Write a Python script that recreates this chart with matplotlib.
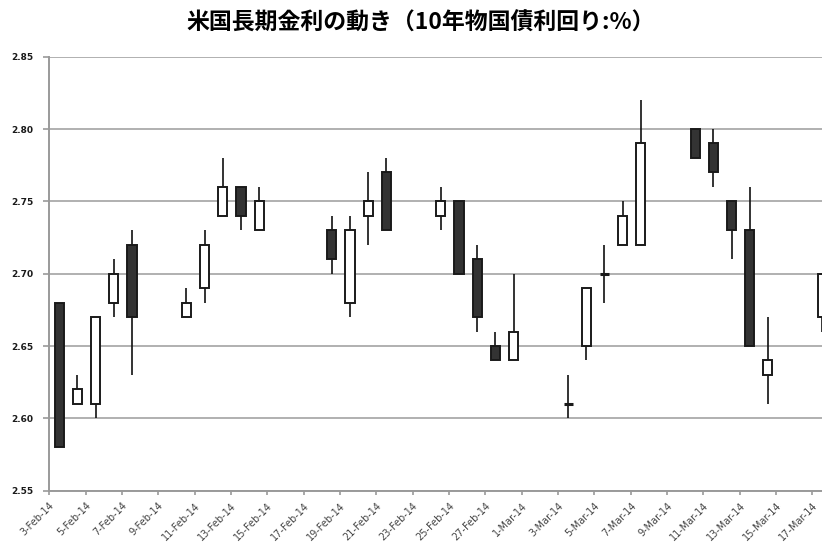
import matplotlib
matplotlib.use("Agg")
import matplotlib.pyplot as plt
import matplotlib.dates as mdates
import pandas as pd

# US 10-year treasury yield, daily OHLC (%)
dates = ["2014-02-03", "2014-02-04", "2014-02-05", "2014-02-06", "2014-02-07",
         "2014-02-10", "2014-02-11", "2014-02-12", "2014-02-13", "2014-02-14",
         "2014-02-18", "2014-02-19", "2014-02-20", "2014-02-21",
         "2014-02-24", "2014-02-25", "2014-02-26", "2014-02-27", "2014-02-28",
         "2014-03-03", "2014-03-04", "2014-03-05", "2014-03-06", "2014-03-07",
         "2014-03-10", "2014-03-11", "2014-03-12", "2014-03-13", "2014-03-14",
         "2014-03-17"]
open_ = [2.68, 2.61, 2.61, 2.68, 2.72,
         2.67, 2.69, 2.74, 2.76, 2.73,
         2.73, 2.68, 2.74, 2.77,
         2.74, 2.75, 2.71, 2.65, 2.64,
         2.61, 2.65, 2.70, 2.72, 2.72,
         2.80, 2.79, 2.75, 2.73, 2.63,
         2.67]
high = [2.68, 2.63, 2.67, 2.71, 2.73,
        2.69, 2.73, 2.78, 2.76, 2.76,
        2.74, 2.74, 2.77, 2.78,
        2.76, 2.75, 2.72, 2.66, 2.70,
        2.63, 2.69, 2.72, 2.75, 2.82,
        2.80, 2.80, 2.75, 2.76, 2.67,
        2.70]
low = [2.58, 2.61, 2.60, 2.67, 2.63,
       2.67, 2.68, 2.74, 2.73, 2.73,
       2.70, 2.67, 2.72, 2.73,
       2.73, 2.70, 2.66, 2.64, 2.64,
       2.60, 2.64, 2.68, 2.72, 2.72,
       2.78, 2.76, 2.71, 2.65, 2.61,
       2.66]
close = [2.58, 2.62, 2.67, 2.70, 2.67,
         2.68, 2.72, 2.76, 2.74, 2.75,
         2.71, 2.73, 2.75, 2.73,
         2.75, 2.70, 2.67, 2.64, 2.66,
         2.61, 2.69, 2.70, 2.74, 2.79,
         2.78, 2.77, 2.73, 2.65, 2.64,
         2.70]

y_ticks = [2.55, 2.60, 2.65, 2.70, 2.75, 2.80, 2.85]
title = "米国長期金利の動き（10年物国債利回り:%）"

plt.rcParams["font.family"] = ["DejaVu Sans"]

fig = plt.figure(figsize=(8.22, 5.45), dpi=100)
W, H = 822, 545
left_px, top_px, bottom_px, right_px = 49.3, 56.7, 490.7, 830
ax = fig.add_axes([left_px / W, 1 - bottom_px / H,
                   (right_px - left_px) / W, (bottom_px - top_px) / H])

d = pd.to_datetime(dates)
x = mdates.date2num(d) + 0.55          # candles sit between day ticks
x0 = mdates.date2num(pd.Timestamp("2014-02-03"))
px_per_day = 18.17
ax.set_xlim(x0, x0 + (right_px - left_px) / px_per_day)
ax.set_ylim(2.55, 2.85)

body_w = 0.5
for xi, o, h, l, c in zip(x, open_, high, low, close):
    ax.vlines(xi, l, h, color="#111111", linewidth=1.2, zorder=2)
    up = c >= o
    face = "#ffffff" if up else "#333333"
    lw = 2.2 if o == c else 1.4     # flat sessions drawn as a bold dash
    ax.bar(xi, abs(c - o), bottom=min(o, c), width=body_w,
           color=face, edgecolor="#1a1a1a", linewidth=lw, zorder=3)

# Gridlines and axes styling
ax.set_yticks(y_ticks)
ax.set_yticklabels([f"{v:.2f}" for v in y_ticks], fontsize=6.5,
                   fontweight="bold", color="#1a1a1a")
ax.yaxis.grid(True, color="#a3a3a3", linewidth=1.2, zorder=0)
ax.set_axisbelow(True)

tick_dates = pd.date_range("2014-02-03", "2014-03-17", freq="2D")
ax.set_xticks(mdates.date2num(tick_dates))
ax.set_xticklabels([f"{t.day}-{t:%b-%y}" for t in tick_dates],
                   rotation=45, ha="right", rotation_mode="anchor",
                   fontsize=7, color="#444444")

ax.tick_params(axis="y", length=4.3, width=1.2, color="#9a9a9a", pad=7.4,
               direction="out")
ax.tick_params(axis="x", length=3, width=1.2, color="#9a9a9a", pad=4,
               direction="out")

for s in ["top", "right"]:
    ax.spines[s].set_visible(False)
for s in ["left", "bottom"]:
    ax.spines[s].set_color("#9a9a9a")
    ax.spines[s].set_linewidth(1.4)

fig.text(421 / W, 1 - 23 / H, title, ha="center", va="center",
         fontsize=16.5, fontweight="bold",
         family=["Noto Sans CJK JP", "DejaVu Sans"])

fig.savefig("out.png", dpi=100)
